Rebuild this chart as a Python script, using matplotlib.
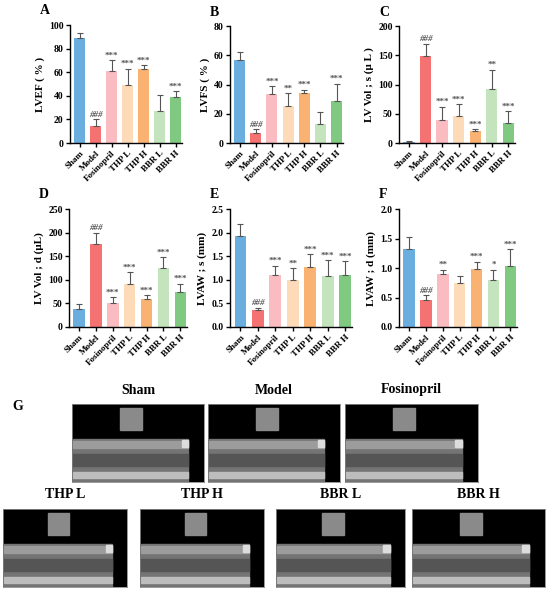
import numpy as np
import matplotlib.pyplot as plt
from matplotlib.patches import Rectangle

plt.rcParams['font.family'] = ['Liberation Serif', 'DejaVu Serif']
plt.rcParams['font.weight'] = 'bold'

groups = ["Sham", "Model", "Fosinopril", "THP L", "THP H", "BBR L", "BBR H"]
colors = ["#6aaee0", "#f47272", "#fbbcc1", "#fddab8", "#f9b272", "#c4e4be", "#7fc981"]

lvef = [89, 14, 61, 49, 63, 27, 39]
lvef_err = [4, 6, 9, 14, 3, 14, 5]
lvef_sig = ["", "###", "***", "***", "***", "", "***"]

lvfs = [57, 7, 33.5, 25.5, 34, 13, 29]
lvfs_err = [5.5, 2.5, 5.5, 8.5, 2.5, 8, 11.5]
lvfs_sig = ["", "###", "***", "**", "***", "", "***"]

lvvol_s = [2, 148, 39, 46, 21, 92, 35]
lvvol_s_err = [1.5, 22, 23, 20, 3, 33, 19]
lvvol_s_sig = ["", "###", "***", "***", "***", "**", "***"]

lvvol_d = [39, 176, 50, 91, 60, 124, 75]
lvvol_d_err = [9, 24, 13, 25, 7, 24, 17]
lvvol_d_sig = ["", "###", "***", "***", "***", "***", "***"]

lvaw_s = [1.93, 0.35, 1.10, 1.00, 1.27, 1.08, 1.10]
lvaw_s_err = [0.26, 0.06, 0.20, 0.25, 0.27, 0.33, 0.29]
lvaw_s_sig = ["", "###", "***", "**", "***", "***", "***"]

lvaw_d = [1.32, 0.45, 0.89, 0.75, 0.98, 0.80, 1.03]
lvaw_d_err = [0.20, 0.09, 0.08, 0.11, 0.13, 0.17, 0.29]
lvaw_d_sig = ["", "###", "**", "", "***", "*", "***"]

W, H = 550, 590

def px_axes(fig, x0, y0, x1, y1):
    # pixel box (top-left origin) -> figure coords
    return fig.add_axes([x0 / W, 1 - y1 / H, (x1 - x0) / W, (y1 - y0) / H])

panels = [
    ("A", (70, 25, 182, 143), lvef, lvef_err, lvef_sig, "LVEF ( % )", (0, 100), [0, 20, 40, 60, 80, 100], "{:.0f}"),
    ("B", (230, 26, 343, 143), lvfs, lvfs_err, lvfs_sig, "LVFS ( % )", (0, 80), [0, 20, 40, 60, 80], "{:.0f}"),
    ("C", (399, 26, 515, 143), lvvol_s, lvvol_s_err, lvvol_s_sig, "LV Vol ; s (\u03bc L )", (0, 200), [0, 50, 100, 150, 200], "{:.0f}"),
    ("D", (69, 209, 187, 327), lvvol_d, lvvol_d_err, lvvol_d_sig, "LV Vol ; d (\u03bcL)", (0, 250), [0, 50, 100, 150, 200, 250], "{:.0f}"),
    ("E", (230, 209, 352, 327), lvaw_s, lvaw_s_err, lvaw_s_sig, "LVAW ; s (mm)", (0, 2.5), [0, 0.5, 1.0, 1.5, 2.0, 2.5], "{:.1f}"),
    ("F", (399, 209, 517, 327), lvaw_d, lvaw_d_err, lvaw_d_sig, "LVAW ; d (mm)", (0, 2.0), [0, 0.5, 1.0, 1.5, 2.0], "{:.1f}"),
]

fig = plt.figure(figsize=(5.5, 5.9), dpi=100)

for letter, box, vals, errs, sigs, ylab, ylim, yt, fmt in panels:
    ax = px_axes(fig, *box)
    x = np.arange(len(groups))
    ax.bar(x, vals, width=0.68, color=colors, zorder=2)
    ax.errorbar(x, vals, yerr=[np.zeros(len(errs)), errs], fmt="none",
                ecolor="#555555", elinewidth=0.8, capsize=2.2, capthick=0.8, zorder=3)
    for xi, v, e, s in zip(x, vals, errs, sigs):
        if s:
            ax.text(xi, v + e + ylim[1] * 0.005, s, ha="center", va="bottom",
                    fontsize=6.5, color="#555555", fontweight="bold",
                    style="italic" if s.startswith("#") else "normal")
    ax.set_xlim(-0.6, 6.4)
    ax.set_ylim(*ylim)
    ax.set_yticks(yt)
    ax.set_yticklabels([fmt.format(t) for t in yt], fontsize=7, fontweight="bold")
    ax.set_xticks(x)
    ax.set_xticklabels(groups, rotation=45, ha="right", rotation_mode="anchor",
                       fontsize=6.5, fontweight="bold")
    ax.set_ylabel(ylab, fontsize=8, fontweight="bold", labelpad=3)
    for sp in ["top", "right"]:
        ax.spines[sp].set_visible(False)
    for sp in ["left", "bottom"]:
        ax.spines[sp].set_linewidth(1.0)
    ax.tick_params(axis="both", width=1.0, length=3, pad=1.5)
    lx = box[0] - 30 if letter in "AD" else box[0] - 20
    fig.text(lx / W, 1 - (box[1] - 14) / H, letter, fontsize=10,
             fontweight="bold", ha="left", va="center")

fig.text(12 / W, 1 - 407 / H, "G", fontsize=10, fontweight="bold", ha="left", va="center")

# panel G: echo image placeholders
echo_names = ["Sham", "Model", "Fosinopril", "THP L", "THP H", "BBR L", "BBR H"]
echo_boxes = [(72, 404, 204, 482), (208, 404, 340, 482), (345, 404, 478, 482),
              (3, 509, 127, 587), (140, 509, 264, 587), (276, 509, 405, 587), (412, 509, 545, 587)]
for name, (x0, y0, x1, y1) in zip(echo_names, echo_boxes):
    ax = px_axes(fig, x0, y0, x1, y1)
    ax.set_xlim(0, 1)
    ax.set_ylim(0, 1)
    ax.set_facecolor("black")
    ax.set_xticks([])
    ax.set_yticks([])
    for sp in ax.spines.values():
        sp.set_color("#888888")
        sp.set_linewidth(0.6)
    ax.add_patch(Rectangle((0.01, 0.0), 0.87, 0.55, color="#747474"))
    ax.add_patch(Rectangle((0.01, 0.44), 0.87, 0.08, color="#9c9c9c"))
    ax.add_patch(Rectangle((0.01, 0.20), 0.87, 0.16, color="#555555"))
    ax.add_patch(Rectangle((0.01, 0.05), 0.87, 0.08, color="#bdbdbd"))
    ax.add_patch(Rectangle((0.36, 0.67), 0.17, 0.28, color="#8a8a8a"))
    ax.add_patch(Rectangle((0.83, 0.45), 0.05, 0.09, color="#dddddd"))
    fig.text((x0 + x1) / 2 / W, 1 - (y0 - 14) / H, name, ha="center", va="center",
             fontsize=10, fontweight="bold")

fig.savefig("out.png", dpi=100, facecolor="white")
